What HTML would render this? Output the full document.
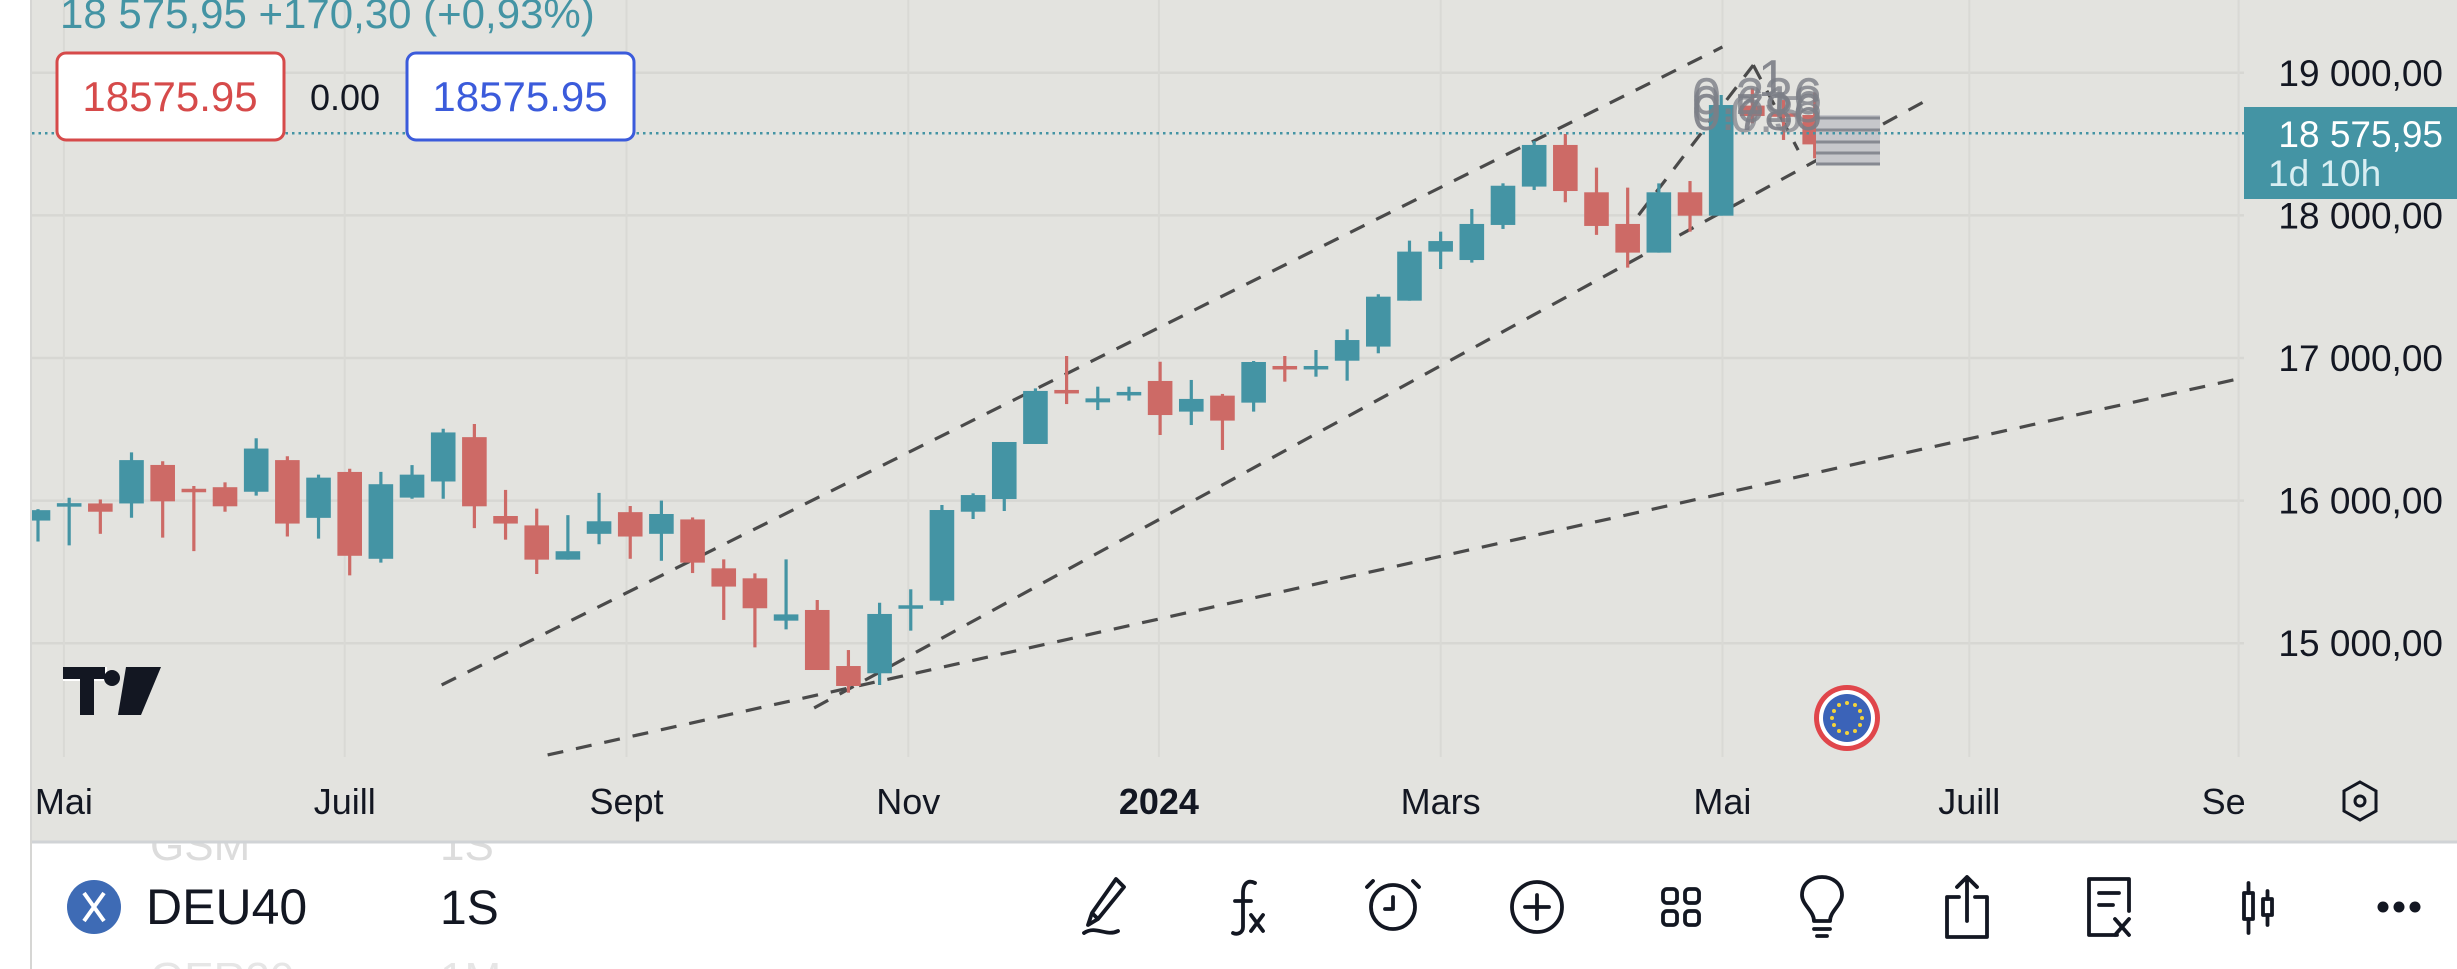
<!DOCTYPE html>
<html><head><meta charset="utf-8"><style>
html,body{margin:0;padding:0;background:#fff;}
svg{display:block;font-family:"Liberation Sans",sans-serif;}
</style></head><body>
<svg id="c" width="2457" height="969" viewBox="0 0 2457 969" xmlns="http://www.w3.org/2000/svg">
<defs><clipPath id="plot"><rect x="32" y="0" width="2212" height="757"/></clipPath>
<clipPath id="axisclip"><rect x="32" y="757" width="2212" height="85"/></clipPath></defs>
<rect x="0" y="0" width="2457" height="969" fill="#ffffff"/>
<text x="150" y="860" font-size="44" fill="#dcdcdc">GSM</text>
<text x="440" y="860" font-size="44" fill="#dcdcdc">1S</text>
<text x="150" y="993" font-size="44" fill="#e6e6e6">GER30</text>
<text x="440" y="993" font-size="44" fill="#e6e6e6">1M</text>
<rect x="32" y="0" width="2425" height="842" fill="#e3e3df"/>
<line x1="31" y1="0" x2="31" y2="969" stroke="#d6d6d4" stroke-width="2"/>
<g id="grid"></g>
<g id="lines" clip-path="url(#plot)"></g>
<g id="candles" clip-path="url(#plot)"></g>
<g clip-path="url(#plot)">
<rect x="1816" y="115" width="64" height="50" fill="#c6c7cb"/>
<line x1="1816" y1="118" x2="1880" y2="118" stroke="#868991" stroke-width="3"/>
<line x1="1816" y1="130" x2="1880" y2="130" stroke="#868991" stroke-width="3"/>
<line x1="1816" y1="142" x2="1880" y2="142" stroke="#868991" stroke-width="3"/>
<line x1="1816" y1="153" x2="1880" y2="153" stroke="#868991" stroke-width="3"/>
<line x1="1816" y1="164" x2="1880" y2="164" stroke="#868991" stroke-width="3"/>
<g font-size="52" fill="#7c7f87">
<text x="1692" y="130" opacity="0.9">0.786</text>
<text x="1692" y="122" opacity="0.8">0.618</text>
<text x="1692" y="114" opacity="0.8">0.236</text>
<text x="1758" y="96" opacity="0.9">1</text>
<text x="1730" y="132" opacity="0.7">0.5</text>
</g>
</g>
<line id="pline" x1="32" y1="133" x2="2244" y2="133" stroke="#4494a4" stroke-width="2.5" stroke-dasharray="2.5 4"/>
<g id="yaxis"></g>
<g>
<rect x="2244" y="107" width="213" height="92" fill="#4494a4"/>
<text x="2443" y="147" text-anchor="end" font-size="37" fill="#ffffff">18 575,95</text>
<text x="2268" y="186" font-size="37" fill="#d8eef2">1d 10h</text>
</g>
<g id="xaxis" clip-path="url(#axisclip)"></g>
<g transform="translate(2360,801)">
<polygon points="0,-19 16,-10 16,10 0,19 -16,10 -16,-10" fill="none" stroke="#131722" stroke-width="3"/>
<circle r="5" fill="none" stroke="#131722" stroke-width="3"/>
</g>
<text x="60" y="28" font-size="42" fill="#4494a4">18 575,95  +170,30 (+0,93%)</text>
<g>
<rect x="57" y="53" width="227" height="87" rx="9" fill="#fff" stroke="#d64a4a" stroke-width="3"/>
<text x="170" y="111" text-anchor="middle" font-size="42" fill="#d64a4a">18575.95</text>
</g>
<text x="345" y="110" text-anchor="middle" font-size="36" fill="#131722">0.00</text>
<g>
<rect x="407" y="53" width="227" height="87" rx="9" fill="#fff" stroke="#3b5bdb" stroke-width="3"/>
<text x="520" y="111" text-anchor="middle" font-size="42" fill="#3b5bdb">18575.95</text>
</g>
<g fill="#131722">
<rect x="63" y="667" width="44" height="14" fill="#fff"/>
<rect x="63" y="667" width="42" height="12"/>
<rect x="80" y="667" width="14" height="48"/>
<circle cx="112" cy="678" r="8"/>
<polygon points="126,667 161,667 141,715 118,715"/>
</g>
<g transform="translate(1847,718)">
<circle r="33" fill="#e0464b"/><circle r="28" fill="#fff"/><circle r="24" fill="#3b63b8"/>
<g fill="#f3d33a">
<circle cx="0" cy="-15" r="2"/><circle cx="8" cy="-13" r="2"/><circle cx="13" cy="-7" r="2"/><circle cx="15" cy="0" r="2"/><circle cx="13" cy="7" r="2"/><circle cx="8" cy="13" r="2"/><circle cx="0" cy="15" r="2"/><circle cx="-8" cy="13" r="2"/><circle cx="-13" cy="7" r="2"/><circle cx="-15" cy="0" r="2"/><circle cx="-13" cy="-7" r="2"/><circle cx="-8" cy="-13" r="2"/>
</g></g>
<line x1="32" y1="842" x2="2457" y2="842" stroke="#d0d3d6" stroke-width="3"/>
<g>
<circle cx="94" cy="907" r="27" fill="#3e6bb5"/>
<path d="M84,893 L104,921 M104,893 L84,921" stroke="#fff" stroke-width="4" fill="none"/>
<text x="146" y="924" font-size="50" fill="#131722">DEU40</text>
<text x="440" y="924" font-size="48" fill="#131722">1S</text>
</g>
<g fill="none" stroke="#131722" stroke-width="3.8" stroke-linecap="round" stroke-linejoin="round">
<g transform="translate(1106,907)"><path d="M10,-28 L18,-20 L-8,12 L-14,6 Z M-14,6 L-18,18 L-8,12 M-22,26 C-10,18 0,30 12,24"/></g>
<g transform="translate(1247,907)"><path d="M8,-24 C0,-28 -4,-22 -4,-14 L-4,20 C-4,26 -10,28 -14,26 M-12,-6 L4,-6 M4,8 L16,24 M16,8 L4,24"/></g>
<g transform="translate(1393,907)"><circle r="22"/><path d="M0,-10 L0,2 L-8,2 M-20,-26 L-26,-20 M20,-26 L26,-20"/></g>
<g transform="translate(1537,907)"><circle r="25"/><path d="M0,-12 L0,12 M-12,0 L12,0"/></g>
<g transform="translate(1681,907)"><rect x="-18" y="-18" width="14" height="14" rx="4"/><rect x="4" y="-18" width="14" height="14" rx="4"/><rect x="-18" y="4" width="14" height="14" rx="4"/><rect x="4" y="4" width="14" height="14" rx="4"/></g>
<g transform="translate(1822,907)"><path d="M-8,14 C-8,4 -20,-2 -20,-12 C-20,-24 -10,-30 0,-30 C10,-30 20,-24 20,-12 C20,-2 8,4 8,14 Z M-8,22 L8,22 M-5,29 L5,29"/></g>
<g transform="translate(1967,907)"><path d="M-8,-10 L-20,-10 L-20,30 L20,30 L20,-10 L8,-10 M0,14 L0,-30 M-10,-20 L0,-30 L10,-20"/></g>
<g transform="translate(2109,907)"><path d="M8,28 L-20,28 L-20,-28 L20,-28 L20,4 M-10,-14 L10,-14 M-10,-2 L4,-2 M6,12 L20,28 M20,12 L6,28"/></g>
<g transform="translate(2258,907)"><rect x="-14" y="-14" width="9" height="26"/><rect x="5" y="-8" width="9" height="16"/><path d="M-9.5,-24 L-9.5,-14 M-9.5,12 L-9.5,26 M9.5,-16 L9.5,-8 M9.5,8 L9.5,18"/></g>
</g>
<g fill="#131722"><circle cx="2383" cy="907" r="5.5"/><circle cx="2399" cy="907" r="5.5"/><circle cx="2415" cy="907" r="5.5"/></g>
</svg>
<script>
const opens  = [15860,15970,15980,15980,16250,16083,16094,16062,16284,15879,16201,15592,16021,16134,16445,15892,15826,15586,15767,15919,15767,15868,15525,15455,15158,15233,14840,14789,15245,15298,15922,16011,16397,16776,16689,16741,16839,16624,16736,16687,16944,16928,16981,17080,17402,17746,17687,17933,18202,18494,18162,17940,17739,18162,17998,18770,18716,18704,18506];
const highs  = [15940,16020,16008,16338,16276,16102,16128,16437,16311,16182,16223,16201,16249,16504,16537,16075,15944,15898,16054,15962,16000,15882,15588,15490,15588,15303,14952,15284,15378,15969,16051,16411,16787,17014,16799,16799,16974,16846,16748,16979,17014,17056,17201,17447,17823,17886,18045,18225,18522,18571,18335,18195,18225,18241,18844,18891,18809,18861,18692];
const lows   = [15713,15686,15767,15880,15740,15646,15922,16035,15748,15733,15476,15565,16013,16013,15807,15726,15485,15586,15694,15592,15578,15492,15163,14971,15097,14812,14653,14707,15088,15268,15871,15927,16397,16677,16635,16701,16460,16530,16355,16624,16834,16869,16841,17033,17402,17624,17669,17905,18178,18092,17863,17634,17739,17886,17998,18646,18529,18400,18377];
const closes = [15933,15982,15922,16284,15995,16062,15960,16365,15839,16161,15613,16115,16182,16478,15960,15839,15586,15645,15855,15748,15906,15565,15397,15245,15202,14812,14700,15205,15266,15934,16039,16411,16769,16759,16717,16762,16600,16713,16561,16972,16928,16944,17126,17430,17746,17820,17940,18208,18494,18171,17926,17739,18162,17998,18774,18697,18700,18498,18576];
const yTicks = [19000,18000,17000,16000,15000];
const yTickLabels = ["19 000,00","18 000,00","17 000,00","16 000,00","15 000,00"];
const xTickIdx = [0.83,9.84,18.88,27.92,35.96,45.0,54.04,61.96,70.6];
const xTickLabels = ["Mai","Juill","Sept","Nov","2024","Mars","Mai","Juill","Sept"];
const xTickBold = [0,0,0,0,1,0,0,0,0];
const lineStartIdx = [12.95,24.9,16.35,51.35,55.03];
const lineStartPrice = [14707,14546,14216,18002,19054];
const lineEndIdx = [54.04,60.67,70.7,55.03,56.47];
const lineEndPrice = [19181,18817,16859,19054,18458];
const lastPrice = 18575.95;

const NS = "http://www.w3.org/2000/svg";
function xS(i){ return 38 + i*31.17; }
function yS(p){ return 72.8 + (19000-p)*0.1426; }
function mk(tag, attrs, parent){ const e=document.createElementNS(NS,tag); for(const k in attrs) e.setAttribute(k,attrs[k]); parent.appendChild(e); return e; }

const grid=document.getElementById('grid');
yTicks.forEach(function(v){
  const l=mk('line',{x1:32,x2:2244,y1:yS(v),y2:yS(v),stroke:'#d7d7d3','stroke-width':2.5},grid);
  
  
});
xTickIdx.forEach(function(v){
  if (xS(v) > 2244) return;
  const l=mk('line',{x1:xS(v),x2:xS(v),y1:0,y2:757,stroke:'#d9d9d5','stroke-width':2},grid);
  
  
});
const lines=document.getElementById('lines');
lineStartIdx.forEach(function(s,k){
  const l=mk('line',{x1:xS(s),y1:yS(lineStartPrice[k]),x2:xS(lineEndIdx[k]),y2:yS(lineEndPrice[k]),stroke:'#4a4a4a','stroke-width':3.2,'stroke-dasharray':'16 13'},lines);
  
  
});
const cg=document.getElementById('candles');
opens.forEach(function(o,i){
  const c=closes[i], up=c>=o, col=up?'#4494a4':'#cd6a66';
  const x=xS(i);
  const g=mk('g',{},cg);
  
  
  mk('line',{x1:x,x2:x,y1:yS(highs[i]),y2:yS(lows[i]),stroke:col,'stroke-width':3.2},g);
  const top=yS(Math.max(o,c)), bot=yS(Math.min(o,c));
  mk('rect',{x:x-12.3,y:top,width:24.6,height:Math.max(bot-top,3.5),fill:col},g);
});
document.getElementById('pline').setAttribute('y1',yS(lastPrice));
document.getElementById('pline').setAttribute('y2',yS(lastPrice));
const ya=document.getElementById('yaxis');
yTicks.forEach(function(v,k){
  const t=mk('text',{x:2443,y:yS(v)+13,'text-anchor':'end','font-size':37,fill:'#131722'},ya);
  t.textContent=yTickLabels[k];
  
  
});
const xa=document.getElementById('xaxis');
xTickIdx.forEach(function(v,k){
  const t=mk('text',{x:xS(v),y:814,'text-anchor':'middle','font-size':36,fill:'#131722','font-weight':xTickBold[k]?'bold':'normal'},xa);
  t.textContent=xTickLabels[k];
  
  
});
</script>
</body></html>
